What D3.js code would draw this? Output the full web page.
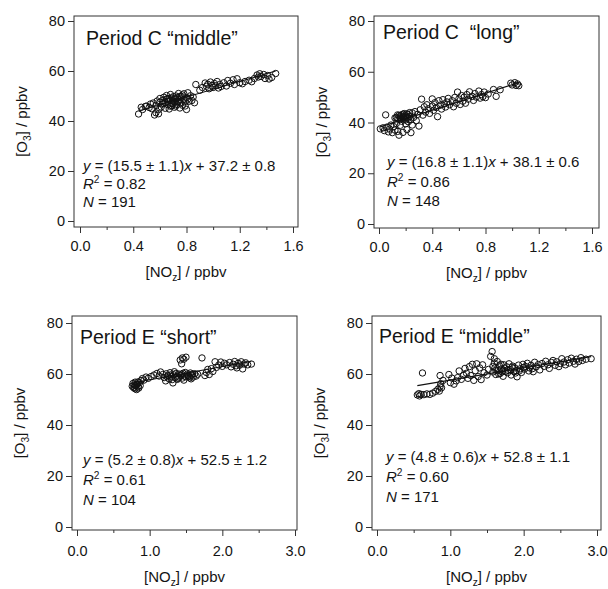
<!DOCTYPE html>
<html>
<head>
<meta charset="utf-8">
<script src="https://cdn.jsdelivr.net/npm/d3@7"></script>
<style>
body { margin: 0; background: #fff; }
text { font-family: "Liberation Sans", Arial, Helvetica, sans-serif; fill: #141414; white-space: pre; }
</style>
</head>
<body>
<div class="chart"></div>
<script>

// [NOz], [O3] pairs
var cMiddle = [
    [0.44,42.8],[0.46,45.5],[0.47,44.6],[0.49,45.8],[0.5,46.0],[0.52,45.4],[0.53,46.8],[0.54,44.9],[0.55,47.2],[0.56,42.4],
    [0.57,43.3],[0.57,46.2],[0.58,48.0],[0.59,44.6],[0.59,42.9],[0.6,47.5],[0.6,49.0],[0.61,45.6],[0.62,48.2],[0.62,46.8],
    [0.63,49.5],[0.64,47.4],[0.64,45.1],[0.65,48.8],[0.65,50.2],[0.66,46.5],[0.66,47.9],[0.67,49.1],[0.67,44.8],[0.68,48.3],
    [0.68,50.6],[0.69,47.0],[0.69,46.1],[0.7,49.7],[0.7,48.0],[0.71,45.5],[0.71,47.5],[0.72,50.0],[0.72,48.9],[0.73,46.6],
    [0.73,49.3],[0.74,47.8],[0.74,51.0],[0.75,45.2],[0.75,48.4],[0.76,49.9],[0.76,47.1],[0.77,50.4],[0.77,46.3],[0.78,48.7],
    [0.78,50.9],[0.79,47.6],[0.8,44.6],[0.8,49.4],[0.81,51.3],[0.82,47.9],[0.83,50.1],[0.84,48.2],[0.85,49.6],[0.86,47.3],
    [0.66,49.0],[0.69,49.2],[0.71,48.6],[0.73,47.9],[0.75,49.8],[0.7,46.9],[0.68,45.9],[0.63,47.0],[0.79,46.0],[0.81,48.8],
    [0.72,46.0],[0.87,54.6],[0.9,52.3],[0.92,53.4],[0.94,55.2],[0.95,53.9],[0.96,54.7],[0.97,52.9],[0.98,55.6],[0.99,54.2],
    [1.0,53.4],[1.01,55.0],[1.02,54.1],[1.03,55.8],[1.04,53.2],[1.05,54.6],[1.06,53.8],[1.08,55.3],[1.1,54.0],[1.11,56.2],
    [1.13,55.1],[1.15,56.5],[1.16,54.6],[1.18,56.9],[1.2,55.3],[1.22,54.9],[1.24,55.8],[1.27,56.3],[1.29,55.7],[1.31,57.0],
    [1.33,58.4],[1.34,57.6],[1.35,58.9],[1.36,57.8],[1.38,58.6],[1.39,57.0],[1.41,58.2],[1.42,56.8],[1.44,57.4],[1.47,59.0]
];
var cLong = [
    [0.01,37.5],[0.03,37.9],[0.04,36.8],[0.05,43.0],[0.06,38.2],[0.07,36.3],[0.08,37.4],[0.09,39.0],[0.1,36.0],[0.11,38.4],
    [0.12,37.0],[0.13,39.6],[0.14,41.5],[0.14,36.5],[0.15,35.0],[0.15,42.8],[0.16,41.8],[0.16,38.9],[0.17,43.0],[0.17,40.5],
    [0.18,42.2],[0.18,36.1],[0.19,41.4],[0.19,43.5],[0.2,42.6],[0.2,39.5],[0.21,41.9],[0.21,37.2],[0.22,43.1],[0.22,40.3],
    [0.23,42.4],[0.24,36.0],[0.24,41.1],[0.25,43.8],[0.25,39.0],[0.26,42.0],[0.27,44.3],[0.28,40.7],[0.29,43.2],[0.3,38.6],
    [0.13,42.0],[0.14,43.0],[0.15,41.2],[0.16,42.6],[0.17,41.6],[0.18,43.3],[0.19,42.0],[0.2,41.0],[0.21,43.4],[0.22,41.7],
    [0.23,43.9],[0.12,41.8],[0.31,45.0],[0.32,49.2],[0.33,42.9],[0.34,46.2],[0.35,44.1],[0.36,47.0],[0.37,45.4],[0.38,43.6],
    [0.4,49.3],[0.4,46.5],[0.41,44.8],[0.42,47.8],[0.43,45.9],[0.44,42.3],[0.45,48.6],[0.46,46.8],[0.47,45.3],[0.48,49.0],
    [0.49,47.3],[0.5,46.1],[0.51,48.1],[0.52,49.5],[0.53,47.0],[0.55,48.6],[0.56,46.2],[0.57,49.9],[0.58,47.6],[0.59,52.0],
    [0.6,49.3],[0.61,47.1],[0.62,50.6],[0.63,48.4],[0.64,50.0],[0.65,47.6],[0.66,51.0],[0.67,49.2],[0.68,52.1],[0.7,50.3],
    [0.71,48.7],[0.72,51.4],[0.73,50.0],[0.75,52.4],[0.76,49.6],[0.77,51.0],[0.78,50.2],[0.79,52.0],[0.8,49.8],[0.82,51.2],
    [0.86,53.0],[0.88,50.3],[0.91,52.9],[0.99,55.5],[1.0,54.8],[1.02,55.7],[1.03,54.6],[1.04,55.2],[1.05,54.5]
];
var eShort = [
    [0.76,55.2],[0.77,56.3],[0.78,54.6],[0.79,55.8],[0.8,56.8],[0.8,54.2],[0.81,55.4],[0.82,53.9],[0.83,56.1],[0.84,55.0],
    [0.85,54.5],[0.86,56.6],[0.87,55.5],[0.88,57.4],[0.9,58.2],[0.92,57.6],[0.95,58.8],[0.98,58.3],[1.02,59.0],[1.06,59.6],
    [1.1,60.2],[1.13,59.2],[1.15,60.8],[1.18,59.8],[1.2,58.6],[1.22,57.3],[1.23,60.1],[1.25,59.4],[1.27,58.0],[1.28,60.5],
    [1.3,59.0],[1.31,57.8],[1.32,56.5],[1.33,59.7],[1.35,58.6],[1.36,60.2],[1.37,59.1],[1.38,57.9],[1.4,60.0],[1.41,58.7],
    [1.42,65.5],[1.43,59.5],[1.44,64.0],[1.45,66.3],[1.45,58.4],[1.46,60.3],[1.47,65.8],[1.48,59.2],[1.5,66.6],[1.5,58.9],
    [1.52,60.0],[1.53,59.4],[1.55,58.5],[1.56,60.4],[1.58,59.6],[1.6,58.8],[1.62,60.1],[1.64,59.2],[1.66,59.9],[1.72,66.3],
    [1.76,59.4],[1.78,60.6],[1.8,61.8],[1.82,59.8],[1.85,62.1],[1.87,61.0],[1.9,64.8],[1.92,62.6],[1.95,63.5],[1.98,64.7],
    [2.0,63.0],[2.03,64.2],[2.06,63.6],[2.1,64.5],[2.12,62.8],[2.15,63.8],[2.17,64.9],[2.19,63.2],[2.2,62.4],[2.22,64.2],
    [2.24,63.5],[2.26,64.8],[2.28,62.0],[2.3,63.9],[2.32,64.4],[2.35,63.6],[2.4,63.9],[1.24,58.9],[1.29,59.6],[1.34,60.9],
    [1.39,58.3],[1.44,59.9],[1.49,60.6],[1.54,59.0],[1.59,60.0],[0.82,55.9],[0.84,56.9],[0.79,54.9],[1.47,57.6],[1.57,58.1]
];
var eMiddle = [
    [0.55,51.8],[0.57,52.3],[0.58,51.4],[0.6,52.0],[0.62,60.4],[0.64,51.9],[0.68,52.2],[0.72,52.0],[0.76,52.5],[0.8,53.2],
    [0.83,54.0],[0.85,53.3],[0.86,55.0],[0.86,59.4],[0.87,56.2],[0.88,54.6],[0.9,57.5],[0.98,59.8],[1.0,56.6],[1.02,58.4],
    [1.05,56.0],[1.08,57.3],[1.1,58.6],[1.12,61.2],[1.15,57.9],[1.18,59.5],[1.2,62.2],[1.22,60.3],[1.24,58.3],[1.26,62.9],
    [1.28,59.4],[1.3,63.8],[1.32,57.5],[1.34,61.3],[1.36,64.0],[1.38,59.0],[1.4,62.4],[1.42,57.8],[1.44,63.6],[1.46,60.5],
    [1.5,59.6],[1.52,61.8],[1.55,66.9],[1.57,68.8],[1.58,60.8],[1.6,66.0],[1.61,62.5],[1.62,59.8],[1.64,64.9],[1.65,61.3],
    [1.67,63.2],[1.68,60.2],[1.7,62.0],[1.72,59.1],[1.73,63.6],[1.75,61.0],[1.77,62.8],[1.78,60.5],[1.8,64.0],[1.82,61.7],
    [1.83,59.6],[1.85,63.1],[1.87,60.9],[1.88,62.4],[1.9,61.3],[1.91,58.9],[1.93,63.5],[1.95,62.0],[1.97,60.6],[1.99,63.8],
    [2.01,61.9],[2.03,62.9],[2.05,64.2],[2.07,61.2],[2.1,63.4],[2.12,62.1],[2.15,64.6],[2.17,62.8],[2.2,63.7],[2.22,61.6],
    [2.25,64.1],[2.28,63.0],[2.3,65.0],[2.33,63.6],[2.35,62.2],[2.38,64.5],[2.4,65.3],[2.43,63.4],[2.45,64.8],[2.48,62.9],
    [2.5,64.1],[2.52,66.0],[2.55,64.7],[2.57,63.6],[2.6,65.6],[2.62,64.3],[2.65,66.2],[2.68,65.0],[2.7,63.9],[2.72,65.8],
    [2.75,64.9],[2.78,66.4],[2.8,65.3],[2.85,65.8],[2.92,66.0],[1.62,61.5],[1.66,60.0],[1.69,63.8],[1.74,62.3],[1.79,61.4],
    [1.84,62.6],[1.89,60.4],[1.94,61.2],[2.0,62.6],[2.08,62.4],[2.13,60.9],[1.58,63.0],[1.6,64.3],[1.71,60.9]
];

var titles = ["Period C \u201cmiddle\u201d", "Period C  \u201clong\u201d", "Period E \u201cshort\u201d", "Period E \u201cmiddle\u201d"];
var slopes = [15.5, 16.8, 5.2, 4.8];
var slopeErrs = ["1.1", "1.1", "0.8", "0.6"];
var intercepts = [37.2, 38.1, 52.5, 52.8];
var interceptErrs = ["0.8", "0.6", "1.2", "1.1"];
var r2s = ["0.82", "0.86", "0.61", "0.60"];
var counts = [191, 148, 104, 171];

var yTicks = [0, 20, 40, 60, 80];
var xTicksC = [0, 0.4, 0.8, 1.2, 1.6];
var xMinorC = [0.2, 0.6, 1.0, 1.4];
var xTicksE = [0, 1, 2, 3];
var xMinorE = [0.5, 1.5, 2.5];

var datasets = [cMiddle, cLong, eShort, eMiddle];

// where each panel sits on the page
var layout = [
    {frame: {l: 74, r: 298, t: 16, b: 227}, xr: [80, 293], yr: [221, 21], xmax: 1.6, ticks: xTicksC, minor: xMinorC, pad: 8, title: [86, 45], eq: [83, 171], step: 18, xt: 50},
    {frame: {l: 374, r: 599, t: 16, b: 228}, xr: [379, 592], yr: [224, 21], xmax: 1.6, ticks: xTicksC, minor: xMinorC, pad: 8, title: [383, 39], eq: [387, 167], step: 19.5, xt: 50},
    {frame: {l: 72, r: 297, t: 316, b: 530}, xr: [77, 295], yr: [527, 323], xmax: 3, ticks: xTicksE, minor: xMinorE, pad: 10, title: [80, 344], eq: [83, 465], step: 20, xt: 52},
    {frame: {l: 372, r: 601, t: 316, b: 530}, xr: [377, 597], yr: [527, 323], xmax: 3, ticks: xTicksE, minor: xMinorE, pad: 10, title: [379, 343], eq: [386, 462], step: 20, xt: 52}
];

var svg = d3.select(".chart")
    .append("svg")
    .attr("width", 608)
    .attr("height", 589);

// append tspans with italic / sub / sup parts
function richText(textSel, parts, size) {
    var shift = 0;
    parts.forEach(function(p) {
        var target = p.sub ? size * 0.28 : (p.sup ? -size * 0.38 : 0);
        var t = textSel.append("tspan").text(p.t);
        if (target !== shift) t.attr("dy", target - shift);
        shift = target;
        if (p.i) t.attr("font-style", "italic");
        if (p.sub || p.sup) t.attr("font-size", size * 0.68);
    });
}

layout.forEach(function(L, i) {
    var data = datasets[i];
    var g = svg.append("g");

    var x = d3.scaleLinear().domain([0, L.xmax]).range(L.xr);
    var y = d3.scaleLinear().domain([0, 80]).range(L.yr);

    // points
    g.selectAll("circle")
        .data(data)
        .enter()
        .append("circle")
        .attr("cx", d => x(d[0]))
        .attr("cy", d => y(d[1]))
        .attr("r", 3.2)
        .attr("fill", "none")
        .attr("stroke", "#111")
        .attr("stroke-width", 1);

    // fit line
    var ext = d3.extent(data, d => d[0]);
    var line = d3.line().x(d => x(d)).y(d => y(slopes[i] * d + intercepts[i]));
    g.append("path")
        .attr("d", line(ext))
        .attr("fill", "none")
        .attr("stroke", "#111")
        .attr("stroke-width", 1.1);

    // frame
    g.append("rect")
        .attr("x", L.frame.l)
        .attr("y", L.frame.t)
        .attr("width", L.frame.r - L.frame.l)
        .attr("height", L.frame.b - L.frame.t)
        .attr("fill", "none")
        .attr("stroke", "#333")
        .attr("stroke-width", 1);

    // axes
    var xAxis = g.append("g")
        .attr("transform", `translate(0, ${L.frame.b})`)
        .call(d3.axisBottom(x).tickValues(L.ticks).tickSize(6).tickPadding(L.pad).tickFormat(d3.format(".1f")));
    g.append("g")
        .attr("transform", `translate(0, ${L.frame.b})`)
        .call(d3.axisBottom(x).tickValues(L.minor).tickSize(3).tickFormat(""))
        .select(".domain").remove();
    var yAxis = g.append("g")
        .attr("transform", `translate(${L.frame.l}, 0)`)
        .call(d3.axisLeft(y).tickValues(yTicks).tickSize(6).tickPadding(3));

    [xAxis, yAxis].forEach(function(a) {
        a.select(".domain").remove();
        a.attr("font-size", 14.5);
    });
    g.selectAll(".tick line").attr("stroke", "#333");

    // title
    g.append("text")
        .attr("x", L.title[0])
        .attr("y", L.title[1])
        .attr("font-size", 19.5)
        .text(titles[i]);

    // fit statistics
    var eqLines = [
        [{t: "y", i: true}, {t: " = (" + slopes[i].toFixed(1) + " \u00b1 " + slopeErrs[i] + ")"}, {t: "x", i: true},
         {t: " + " + intercepts[i].toFixed(1) + " \u00b1 " + interceptErrs[i]}],
        [{t: "R", i: true}, {t: "2", sup: true}, {t: " = " + r2s[i]}],
        [{t: "N", i: true}, {t: " = " + counts[i]}]
    ];
    eqLines.forEach(function(parts, k) {
        var t = g.append("text")
            .attr("x", L.eq[0])
            .attr("y", L.eq[1] + k * L.step)
            .attr("font-size", 15);
        richText(t, parts, 15);
    });

    // axis titles
    var xt = g.append("text")
        .attr("x", (L.frame.l + L.frame.r) / 2)
        .attr("y", L.frame.b + L.xt)
        .attr("text-anchor", "middle")
        .attr("font-size", 15);
    richText(xt, [{t: "[NO"}, {t: "z", sub: true}, {t: "] / ppbv"}], 15);

    var yt = g.append("text")
        .attr("transform", `translate(${L.frame.l - 47}, ${(L.frame.t + L.frame.b) / 2}) rotate(-90)`)
        .attr("text-anchor", "middle")
        .attr("font-size", 15);
    richText(yt, [{t: "[O"}, {t: "3", sub: true}, {t: "] / ppbv"}], 15);
});
</script>
</body>
</html>
